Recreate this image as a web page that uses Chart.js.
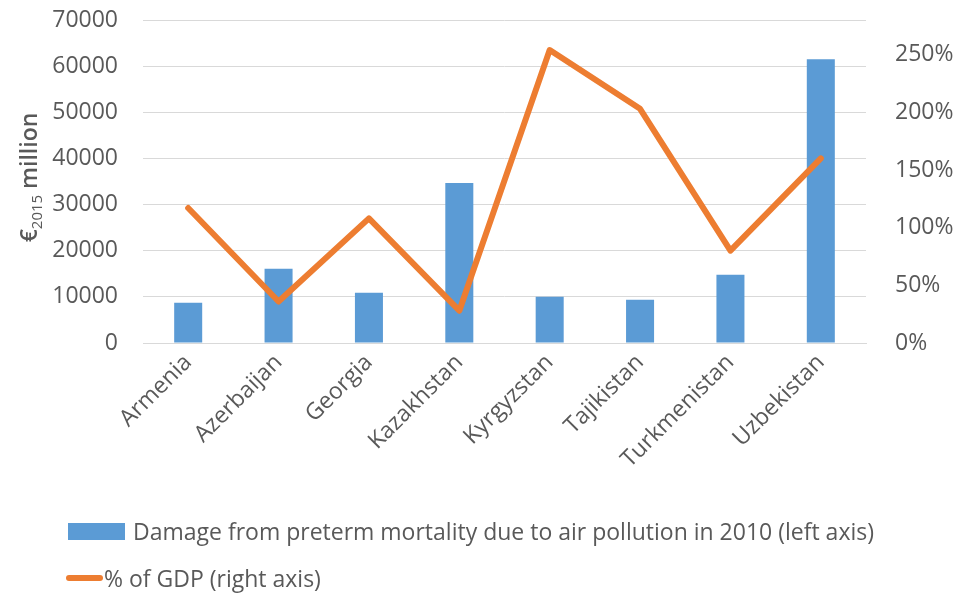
<!DOCTYPE html>
<html>
<head>
<meta charset="utf-8">
<script src="https://cdn.jsdelivr.net/npm/chart.js@4"></script>
<style>
  html, body { margin: 0; padding: 0; background: #fff; }
  #wrap { position: relative; width: 964px; height: 596px; }
  #legend { position: absolute; left: 0; top: 0; font-family: "Open Sans", sans-serif; font-size: 23px; color: #595959; }
  .item { position: absolute; white-space: nowrap; display: flex; align-items: center; }
</style>
</head>
<body>
<div id="wrap">
  <canvas id="chart" width="964" height="596"></canvas>
  <div id="legend">
    <div class="item" style="left:68px; top:516px; height:30px;">
      <span style="display:inline-block; width:57px; height:17px; background:#5B9BD5; margin-right:8px;"></span>
      <span id="lbl1"></span>
    </div>
    <div class="item" style="left:66px; top:563px; height:30px;">
      <span style="display:inline-block; width:37px; height:6px; border-radius:3px; background:#ED7D31; margin-right:1px;"></span>
      <span id="lbl2"></span>
    </div>
  </div>
</div>
<script>
// Données
const pays = ['Armenia', 'Azerbaijan', 'Georgia', 'Kazakhstan', 'Kyrgyzstan', 'Tajikistan', 'Turkmenistan', 'Uzbekistan'];
const dommages = [8700, 16100, 10900, 34700, 10000, 9400, 14800, 61500];
const partPIB = [1.17, 0.36, 1.08, 0.28, 2.54, 2.03, 0.80, 1.60];
const nomDommages = 'Damage from preterm mortality due to air pollution in 2010 (left axis)';
const nomPIB = '% of GDP (right axis)';

document.getElementById('lbl1').textContent = nomDommages;
document.getElementById('lbl2').textContent = nomPIB;

const gris = '#595959';
const police = '"Open Sans", sans-serif';

// Titre de l'axe gauche avec indice
const titreAxe = {
    id: 'titreAxe',
    afterDraw(chart) {
        const ctx = chart.ctx;
        const area = chart.chartArea;
        ctx.save();
        ctx.translate(29, (area.top + area.bottom) / 2 - 4);
        ctx.rotate(-Math.PI / 2);
        ctx.fillStyle = gris;
        ctx.textBaseline = 'alphabetic';
        const grand = '600 23px ' + police;
        const petit = '15px ' + police;
        ctx.font = grand;
        const w1 = ctx.measureText('€').width;
        const w3 = ctx.measureText(' million').width;
        ctx.font = petit;
        const w2 = ctx.measureText('2015').width;
        let x = -(w1 + w2 + w3) / 2;
        ctx.font = grand;
        ctx.fillText('€', x, 8);
        x += w1;
        ctx.font = petit;
        ctx.fillText('2015', x, 13);
        x += w2;
        ctx.font = grand;
        ctx.fillText(' million', x, 8);
        ctx.restore();
    }
};

new Chart(document.getElementById('chart').getContext('2d'), {
    data: {
        labels: pays,
        datasets: [{
            type: 'line',
            label: nomPIB,
            data: partPIB,
            yAxisID: 'y2',
            borderColor: '#ED7D31',
            borderWidth: 6,
            borderJoinStyle: 'round',
            borderCapStyle: 'round',
            pointRadius: 0,
            tension: 0,
            order: 1
        }, {
            type: 'bar',
            label: nomDommages,
            data: dommages,
            yAxisID: 'y',
            backgroundColor: '#5B9BD5',
            barPercentage: 0.31,
            categoryPercentage: 1,
            order: 2
        }]
    },
    options: {
        responsive: false,
        animation: false,
        layout: { padding: { top: 20, left: 0, right: 0, bottom: 0 } },
        plugins: {
            legend: { display: false },
            tooltip: { enabled: false }
        },
        scales: {
            x: {
                grid: { display: false, drawTicks: false },
                border: { color: '#d9d9d9', width: 1 },
                ticks: {
                    color: gris,
                    font: { family: police, size: 23 },
                    minRotation: 45,
                    maxRotation: 45,
                    padding: 6
                },
                afterFit(scale) { scale.height = 253; }
            },
            y: {
                position: 'left',
                min: 0,
                max: 70000,
                grid: { color: '#d9d9d9', drawTicks: true, tickLength: 22, tickColor: 'rgba(0,0,0,0)' },
                border: { display: false },
                ticks: {
                    stepSize: 10000,
                    color: gris,
                    font: { family: police, size: 23 },
                    padding: 3,
                    callback: v => String(v)
                },
                afterFit(scale) { scale.width = 143; }
            },
            y2: {
                position: 'right',
                min: 0,
                max: 2.8,
                grid: { drawOnChartArea: false, drawTicks: true, tickLength: 26, tickColor: 'rgba(0,0,0,0)' },
                border: { display: false },
                ticks: {
                    stepSize: 0.5,
                    includeBounds: false,
                    color: gris,
                    font: { family: police, size: 23 },
                    padding: 3,
                    callback: v => Math.round(v * 100) + '%'
                },
                afterFit(scale) { scale.width = 98; }
            }
        }
    },
    plugins: [titreAxe]
});
</script>
</body>
</html>
